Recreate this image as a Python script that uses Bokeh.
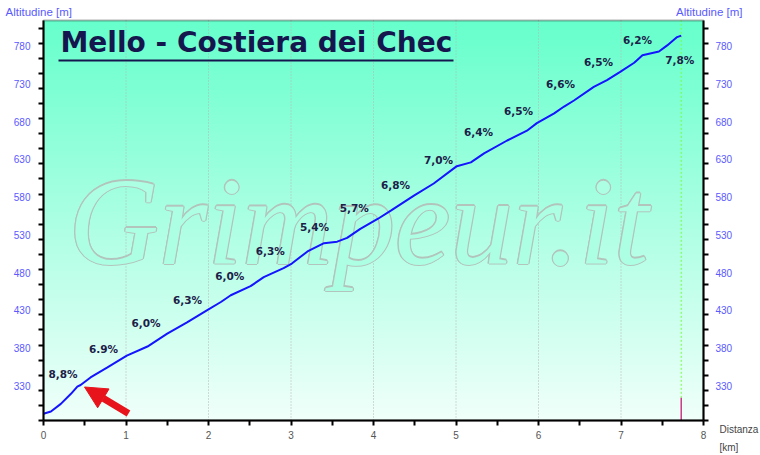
import numpy as np
from bokeh.plotting import figure
from bokeh.models import (Range1d, LinearAxis, FixedTicker, Label, Arrow,
                          NormalHead, ColumnDataSource, BoxAnnotation)
from bokeh.core.properties import value
from bokeh.embed import file_html
from bokeh.resources import INLINE

# ---------------- data ----------------
title_text = "Mello - Costiera dei Chec"
watermark_text = "Grimpeur.it"

profile_km = [0.00, 0.09, 0.21, 0.33, 0.41, 0.45, 0.57, 0.77, 1.01, 1.26, 1.50,
              1.74, 1.98, 2.15, 2.27, 2.51, 2.67, 2.91, 3.01, 3.20, 3.40, 3.56,
              3.68, 3.84, 4.05, 4.21, 4.49, 4.73, 5.01, 5.18, 5.34, 5.62, 5.86,
              5.98, 6.19, 6.31, 6.43, 6.67, 6.83, 6.99, 7.16, 7.26, 7.46, 7.56,
              7.68, 7.73]
profile_elev = [293, 296, 306, 319, 329, 331, 341, 354, 370, 382, 399,
                414, 430, 441, 450, 462, 474, 486, 492, 508, 519, 521,
                526, 538, 551, 562, 582, 598, 621, 626, 638, 655, 668,
                678, 691, 700, 708, 726, 735, 746, 758, 768, 773, 781,
                792, 794]

grade_labels = ["8,8%", "6.9%", "6,0%", "6,3%", "6,0%", "6,3%", "5,4%", "5,7%",
                "6,8%", "7,0%", "6,4%", "6,5%", "6,6%", "6,5%", "6,2%", "7,8%"]
grade_km = [0.236, 0.727, 1.242, 1.745, 2.258, 2.748, 3.285, 3.766,
            4.267, 4.788, 5.273, 5.758, 6.267, 6.727, 7.200, 7.713]
grade_elev = [346, 379, 413, 444, 476, 509, 541, 566,
              595.5, 629.6, 666, 693.6, 730, 758.5, 788.6, 762]

x_ticks = [0, 1, 2, 3, 4, 5, 6, 7, 8]
x_minor_ticks = [0.5, 1.5, 2.5, 3.5, 4.5, 5.5, 6.5, 7.5]
y_ticks = [330, 380, 430, 480, 530, 580, 630, 680, 730, 780]
y_minor_ticks = list(range(284, 805, 20))

end_km = 7.73
marker_top = 314
x_lo, x_hi = 0, 8
y_lo, y_hi = 284, 814

# ---------------- layout (canvas pixels) ----------------
W, H = 760, 455
PL, PR, PT, PB = 43, 703, 20, 420
sx = (PR - PL) / (x_hi - x_lo)
sy = (PB - PT) / (y_hi - y_lo)


def kx(X):
    return x_lo + (X - PL) / sx


def ey(Y):
    return y_lo + (PB - Y) / sy


c_top = np.array([102, 255, 204], dtype=float)
c_bot = np.array([240, 255, 250], dtype=float)


def grad_color(Y):
    t = (PB - Y) / (PB - PT)
    c = c_bot + (c_top - c_bot) * t
    return "#%02x%02x%02x" % tuple(int(round(v)) for v in c)


p = figure(width=W, height=H,
           x_range=Range1d(kx(0), kx(W)), y_range=Range1d(ey(H), ey(0)),
           x_axis_location=None, y_axis_location=None, min_border=0,
           output_backend="svg", toolbar_location=None)
p.background_fill_color = "white"
p.border_fill_color = "white"
p.outline_line_color = None
p.grid.visible = False

# vertical gradient background of the plot area
n = 256
t = ((np.arange(n) + 0.5) / n)[:, None]
cols = c_bot + (c_top - c_bot) * t
img = np.empty((n, 2), dtype=np.uint32)
view = img.view(dtype=np.uint8).reshape((n, 2, 4))
for j in range(2):
    view[:, j, 0:3] = np.round(cols).astype(np.uint8)
    view[:, j, 3] = 255
p.image_rgba(image=[img], x=x_lo, y=y_lo, dw=x_hi - x_lo, dh=y_hi - y_lo,
             level="image")

# vertical dotted grid lines
grid_x = x_ticks[1:-1]
p.segment(x0=grid_x, y0=[y_lo] * len(grid_x), x1=grid_x, y1=[y_hi] * len(grid_x),
          line_color="#b4b4b4", line_dash="1 2", line_width=1)

# watermark (outlined look)
wm = dict(x=[kx(68)], y=[ey(221)], text=[watermark_text],
          text_font=value("Liberation Serif"), text_font_style="italic",
          text_font_size="125px", text_baseline="middle", text_align="left")
ring = [(1.3, 0), (-1.3, 0), (0, 1.3), (0, -1.3),
        (0.9, 0.9), (-0.9, 0.9), (0.9, -0.9), (-0.9, -0.9)]
for dx, dy in ring:
    p.text(**wm, x_offset=dx, y_offset=dy, text_color="#b2c4bc")
p.text(**wm, text_color=grad_color(225))

# end markers
p.segment(x0=[end_km], y0=[marker_top], x1=[end_km], y1=[y_hi],
          line_color="#77ff44", line_dash="2 2", line_width=1)
p.segment(x0=[end_km], y0=[y_lo], x1=[end_km], y1=[marker_top],
          line_color="#cc3a88", line_width=1.5)

# profile
p.line(profile_km, profile_elev, line_color="#1414ff", line_width=2)

# grade labels
src = ColumnDataSource(dict(x=grade_km, y=grade_elev, t=grade_labels))
p.text(x="x", y="y", text="t", source=src, text_font=value("DejaVu Sans"),
       text_font_style="bold", text_font_size="10.5px", text_color="#1c2048",
       text_align="center", text_baseline="middle")

# arrow
p.add_layout(Arrow(end=NormalHead(size=22, fill_color="#e8141c", line_color="#e8141c"),
                   x_start=kx(128), y_start=ey(413), x_end=kx(84), y_end=ey(386.5),
                   line_color="#e8141c", line_width=7))

# plot-area frame (top border)
p.add_layout(BoxAnnotation(left=x_lo, right=x_hi, bottom=y_lo, top=y_hi,
                           fill_alpha=0, line_color="black", line_width=2))

# title with underline
p.add_layout(Label(x=kx(60), y=ey(42), text=title_text, text_font="DejaVu Sans",
                   text_font_style="bold", text_font_size="28px",
                   text_color="#16164e", text_baseline="middle", text_align="left"))
p.segment(x0=[kx(58)], y0=[ey(60)], x1=[kx(453)], y1=[ey(60)],
          line_color="#16164e", line_width=2)

# axes
label_font = "Liberation Sans"

bottom_ax = LinearAxis(fixed_location=y_lo, bounds=(x_lo, x_hi),
                       ticker=FixedTicker(ticks=x_ticks, minor_ticks=x_minor_ticks))
bottom_ax.axis_line_width = 2
bottom_ax.axis_line_color = "black"
bottom_ax.major_tick_in = 0
bottom_ax.major_tick_out = 5
bottom_ax.minor_tick_in = 0
bottom_ax.minor_tick_out = 5
bottom_ax.major_tick_line_width = 2
bottom_ax.minor_tick_line_width = 2
bottom_ax.major_label_text_color = "#555555"
bottom_ax.major_label_text_font = label_font
bottom_ax.major_label_text_font_size = "10px"
bottom_ax.major_label_standoff = 5
p.add_layout(bottom_ax, "below")


def make_y_axis(loc, standoff):
    ax = LinearAxis(fixed_location=loc, bounds=(y_lo, y_hi),
                    ticker=FixedTicker(ticks=y_ticks, minor_ticks=y_minor_ticks))
    ax.axis_line_width = 2
    ax.axis_line_color = "black"
    ax.major_tick_in = 0
    ax.major_tick_out = 0
    ax.minor_tick_in = 0
    ax.minor_tick_out = 5
    ax.minor_tick_line_width = 2
    ax.minor_tick_line_color = "black"
    ax.major_label_text_color = "#5a5aff"
    ax.major_label_text_font = label_font
    ax.major_label_text_font_size = "10px"
    ax.major_label_standoff = standoff
    return ax


p.add_layout(make_y_axis(x_lo, 8), "left")
p.add_layout(make_y_axis(x_hi, 7), "right")

# axis names
for kw in [dict(x=kx(5), y=ey(11), text="Altitudine [m]", text_align="left",
                text_color="#5a5aff", text_font_size="11.5px"),
           dict(x=kx(742), y=ey(11), text="Altitudine [m]", text_align="right",
                text_color="#5a5aff", text_font_size="11.5px"),
           dict(x=kx(719), y=ey(429), text="Distanza", text_align="left",
                text_color="#444444", text_font_size="10px"),
           dict(x=kx(719), y=ey(447), text="[km]", text_align="left",
                text_color="#444444", text_font_size="10px")]:
    p.add_layout(Label(text_font=label_font, text_baseline="middle", **kw))

open("out.html", "w").write(file_html(p, INLINE))
